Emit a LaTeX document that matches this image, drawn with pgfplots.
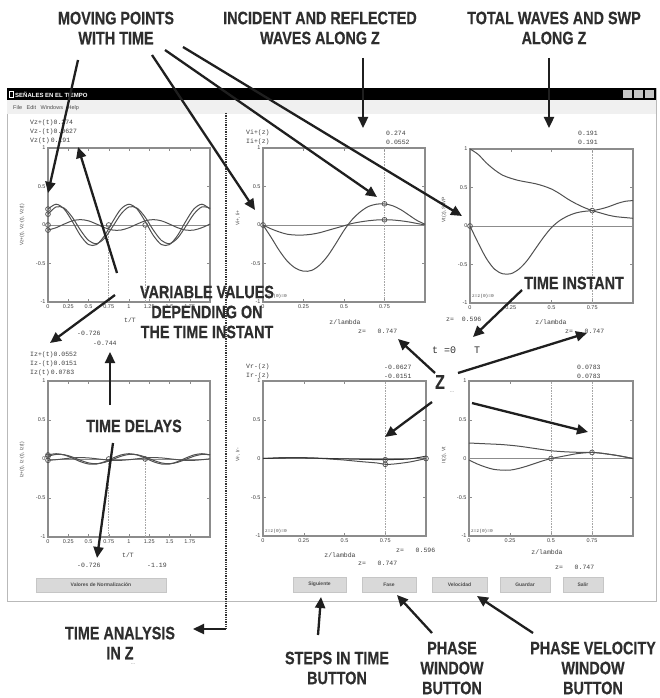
\documentclass[border=0pt]{standalone}
\usepackage{pgfplots}
\pgfplotsset{compat=1.18}
\usepackage{fontspec}
\setmainfont{Liberation Sans}
\newfontfamily\mono{Liberation Mono}
\newfontfamily\annfont{Liberation Sans Bold}[FakeBold=0.5]
\usetikzlibrary{arrows.meta}
\definecolor{crv}{HTML}{505050}
\definecolor{frm}{HTML}{8C8C8C}
\tikzset{
  ann/.style={font=\annfont\fontsize{18}{20}\selectfont, text=black!82, align=center, inner sep=0pt, xscale=0.8},
  arr/.style={line width=2.3pt, black!88, -{Triangle[length=11pt,width=10pt]}},
  mt/.style={font=\mono\fontsize{6.5}{7}\selectfont, inner sep=0pt, anchor=west, text=black!75},
  btn/.style={fill=gray!30, draw=gray!45},
  btxt/.style={font=\fontsize{5}{6}\selectfont\bfseries, text=black!70},
  ylab/.style={font=\fontsize{5}{6}\selectfont, rotate=90, text=black!70, inner sep=0pt},
  vd/.style={densely dotted, gray!70, line width=0.6pt}
}
\pgfplotsset{
  scr/.style={scale only axis, width=162pt, height=154pt, anchor=south west,
    ymin=-1, ymax=1, ytick={-1,-0.5,0,0.5,1}, yticklabels={-1,-0.5,0,0.5,1},
    axis line style={frm, line width=1.1pt}, tick style={frm, line width=0.5pt},
    major tick length=3pt, tick align=inside,
    ticklabel style={font=\fontsize{5.5}{6}\selectfont, text=black!75},
    xticklabel style={yshift=1pt}, yticklabel style={xshift=1pt},
    /pgf/number format/assume math mode=true, clip=false,
    every axis plot/.append style={line width=1pt, crv}},
  zl/.style={frm, line width=0.8pt},
  circ/.style={only marks, mark=o, mark size=2.4pt, crv, mark options={line width=0.7pt}}
}
\begin{document}
\begin{tikzpicture}
\path[use as bounding box] (0,0) rectangle (660pt,-698pt);
% ---------- window ----------
\begin{scope}[x=1pt,y=-1pt]
\fill[white] (0,0) rectangle (660,698);
\draw[gray!55, line width=0.7pt] (7,88) rectangle (656,601);
\fill[gray!12] (7,100) rectangle (656,114);
\fill[black] (7,88) rectangle (656,100);
\draw[white, line width=0.5pt] (9,91) rectangle (13,97);
\node[anchor=west, inner sep=0pt, text=white, font=\fontsize{6}{6}\selectfont\bfseries] at (15,94.5) {SEÑALES EN EL TIEMPO};
\foreach \xx in {623,634,645}{\fill[gray!45] (\xx,90) rectangle (\xx+9,98.5);}
\node[anchor=west, inner sep=0pt, font=\fontsize{5.5}{6}\selectfont, text=black!70] at (13,108) {File\ \ \ Edit\ \ \ Windows\ \ \ Help};
% buttons
\draw[btn] (36,578) rectangle (166,592); \node[btxt] at (101,585) {Valores de Normalización};
\draw[btn] (293,577) rectangle (346,592); \node[btxt] at (319.5,584.5) {Siguiente};
\draw[btn] (362,577) rectangle (416,592); \node[btxt] at (389,584.5) {Fase};
\draw[btn] (432,577) rectangle (487,592); \node[btxt] at (459.5,584.5) {Velocidad};
\draw[btn] (500,577) rectangle (550,592); \node[btxt] at (525,584.5) {Guardar};
\draw[btn] (563,577) rectangle (603,592); \node[btxt] at (583,584.5) {Salir};
\end{scope}

% ---------- top-left: time signals ----------
\begin{axis}[scr, at={(48pt,-302pt)}, xmin=0, xmax=2,
  xtick={0,0.25,0.5,0.75,1,1.25,1.5,1.75}, xticklabels={0,0.25,0.5,0.75,1,1.25,1.5,1.75}]
\addplot[zl] coordinates {(0,0) (2,0)};
\draw[vd] (axis cs:0.75,-1) -- (axis cs:0.75,0);
\draw[vd] (axis cs:1.2,-1) -- (axis cs:1.2,0);
\addplot[smooth] coordinates {(0,0.207) (0.1,0.27) (0.2,0.207) (0.3,0.047) (0.4,-0.135) (0.5,-0.254) (0.6,-0.254) (0.7,-0.135) (0.8,0.047) (0.9,0.207) (1.0,0.27) (1.1,0.207) (1.2,0.047) (1.3,-0.135) (1.4,-0.254) (1.5,-0.254) (1.6,-0.135) (1.7,0.047) (1.8,0.207) (1.9,0.27) (2.0,0.207)};
\addplot[smooth] coordinates {(0,-0.066) (0.1,-0.035) (0.2,0.012) (0.3,0.054) (0.4,0.07) (0.5,0.054) (0.6,0.012) (0.7,-0.035) (0.8,-0.066) (0.9,-0.066) (1.0,-0.035) (1.1,0.012) (1.2,0.054) (1.3,0.07) (1.4,0.054) (1.5,0.012) (1.6,-0.035) (1.7,-0.066) (1.8,-0.066) (1.9,-0.035) (2.0,0.012)};
\addplot[smooth] coordinates {(0,0.141) (0.1,0.235) (0.2,0.219) (0.3,0.101) (0.4,-0.065) (0.5,-0.200) (0.6,-0.242) (0.7,-0.170) (0.8,-0.019) (0.9,0.141) (1.0,0.235) (1.1,0.219) (1.2,0.101) (1.3,-0.065) (1.4,-0.200) (1.5,-0.242) (1.6,-0.170) (1.7,-0.019) (1.8,0.141) (1.9,0.235) (2.0,0.219)};
\addplot[circ] coordinates {(0,0.207) (0,0.141) (0,0) (0,-0.066) (0.75,0) (1.2,0)};
\end{axis}

% ---------- top-middle: incident & reflected ----------
\begin{axis}[scr, at={(263pt,-302pt)}, xmin=0, xmax=1,
  xtick={0,0.25,0.5,0.75}, xticklabels={0,0.25,0.5,0.75}]
\addplot[zl] coordinates {(0,0) (1,0)};
\draw[vd] (axis cs:0.75,-1) -- (axis cs:0.75,1);
\addplot[smooth] coordinates {(0,0) (0.05,-0.16) (0.1,-0.33) (0.15,-0.47) (0.2,-0.56) (0.25,-0.6) (0.3,-0.59) (0.35,-0.52) (0.4,-0.4) (0.45,-0.24) (0.5,-0.07) (0.55,0.07) (0.6,0.17) (0.65,0.24) (0.7,0.27) (0.75,0.275) (0.8,0.25) (0.85,0.2) (0.9,0.13) (0.95,0.06) (1.0,0.01)};
\addplot[smooth] coordinates {(0,0) (0.05,-0.05) (0.1,-0.09) (0.15,-0.12) (0.2,-0.13) (0.25,-0.13) (0.3,-0.12) (0.35,-0.1) (0.4,-0.07) (0.45,-0.04) (0.5,-0.01) (0.55,0.02) (0.6,0.04) (0.65,0.055) (0.7,0.065) (0.75,0.068) (0.8,0.065) (0.85,0.055) (0.9,0.04) (0.95,0.02) (1.0,0)};
\addplot[circ] coordinates {(0,0) (0.75,0.275) (0.75,0.068)};
\end{axis}

% ---------- top-right: total waves & SWP ----------
\begin{axis}[scr, at={(470pt,-303pt)}, width=163pt, xmin=0, xmax=1,
  xtick={0,0.25,0.5,0.75}, xticklabels={0,0.25,0.5,0.75}]
\addplot[zl] coordinates {(0,0) (1,0)};
\draw[vd] (axis cs:0.75,-1) -- (axis cs:0.75,1);
\addplot[smooth] coordinates {(0,1) (0.05,0.93) (0.1,0.82) (0.15,0.73) (0.2,0.66) (0.25,0.62) (0.3,0.59) (0.35,0.57) (0.4,0.55) (0.45,0.52) (0.5,0.48) (0.55,0.42) (0.6,0.35) (0.65,0.29) (0.7,0.24) (0.75,0.2) (0.8,0.17) (0.85,0.14) (0.9,0.12) (0.95,0.11) (1.0,0.1)};
\addplot[smooth] coordinates {(0,0) (0.05,-0.22) (0.1,-0.42) (0.15,-0.56) (0.2,-0.62) (0.25,-0.62) (0.3,-0.56) (0.35,-0.45) (0.4,-0.3) (0.45,-0.15) (0.5,-0.02) (0.55,0.07) (0.6,0.13) (0.65,0.17) (0.7,0.19) (0.75,0.2) (0.8,0.22) (0.85,0.25) (0.9,0.29) (0.95,0.32) (1.0,0.33)};
\addplot[circ] coordinates {(0,0) (0.75,0.2)};
\end{axis}

% ---------- bottom-left: currents in time ----------
\begin{axis}[scr, at={(48pt,-537pt)}, height=156pt, xmin=0, xmax=2,
  xtick={0,0.25,0.5,0.75,1,1.25,1.5,1.75}, xticklabels={0,0.25,0.5,0.75,1,1.25,1.5,1.75}]
\addplot[zl] coordinates {(0,0) (2,0)};
\draw[vd] (axis cs:0.75,-1) -- (axis cs:0.75,0);
\draw[vd] (axis cs:1.2,-1) -- (axis cs:1.2,0);
\addplot[smooth] coordinates {(0,0.052) (0.1,0.068) (0.2,0.052) (0.3,0.012) (0.4,-0.034) (0.5,-0.064) (0.6,-0.064) (0.7,-0.034) (0.8,0.012) (0.9,0.052) (1.0,0.068) (1.1,0.052) (1.2,0.012) (1.3,-0.034) (1.4,-0.064) (1.5,-0.064) (1.6,-0.034) (1.7,0.012) (1.8,0.052) (1.9,0.068) (2.0,0.052)};
\addplot[smooth] coordinates {(0,-0.017) (0.1,-0.009) (0.2,0.003) (0.3,0.014) (0.4,0.018) (0.5,0.014) (0.6,0.003) (0.7,-0.009) (0.8,-0.017) (0.9,-0.017) (1.0,-0.009) (1.1,0.003) (1.2,0.014) (1.3,0.018) (1.4,0.014) (1.5,0.003) (1.6,-0.009) (1.7,-0.017) (1.8,-0.017) (1.9,-0.009) (2.0,0.003)};
\addplot[smooth] coordinates {(0,0.035) (0.1,0.059) (0.2,0.055) (0.3,0.026) (0.4,-0.016) (0.5,-0.050) (0.6,-0.061) (0.7,-0.043) (0.8,-0.005) (0.9,0.035) (1.0,0.059) (1.1,0.055) (1.2,0.026) (1.3,-0.016) (1.4,-0.050) (1.5,-0.061) (1.6,-0.043) (1.7,-0.005) (1.8,0.035) (1.9,0.059) (2.0,0.055)};
\addplot[circ] coordinates {(0,0.052) (0,0.035) (0,-0.017) (0.75,0) (1.2,0)};
\end{axis}

% ---------- bottom-middle ----------
\begin{axis}[scr, at={(263pt,-536pt)}, width=163pt, height=155pt, xmin=0, xmax=1,
  xtick={0,0.25,0.5,0.75}, xticklabels={0,0.25,0.5,0.75}]
\addplot[zl] coordinates {(0,0) (1,0)};
\draw[vd] (axis cs:0.75,-1) -- (axis cs:0.75,1);
\addplot[smooth] coordinates {(0,0) (0.1,0.01) (0.2,0.012) (0.3,0.008) (0.4,-0.005) (0.5,-0.02) (0.6,-0.04) (0.7,-0.058) (0.75,-0.075) (0.8,-0.072) (0.9,-0.045) (1.0,0.0)};
\addplot[smooth, black!80] coordinates {(0,0) (0.1,0.005) (0.2,0.008) (0.3,0.005) (0.4,0) (0.5,-0.005) (0.6,-0.01) (0.7,-0.014) (0.75,-0.015) (0.8,-0.013) (0.9,-0.005) (1.0,0.03)};
\addplot[circ] coordinates {(0.75,-0.075) (0.75,-0.015) (1,0)};
\end{axis}

% ---------- bottom-right ----------
\begin{axis}[scr, at={(469pt,-536pt)}, width=164pt, height=155pt, xmin=0, xmax=1,
  xtick={0,0.25,0.5,0.75}, xticklabels={0,0.25,0.5,0.75}]
\addplot[zl] coordinates {(0,0) (1,0)};
\draw[vd] (axis cs:0.5,-1) -- (axis cs:0.5,1);
\draw[vd] (axis cs:0.75,-1) -- (axis cs:0.75,1);
\addplot[smooth] coordinates {(0,0.2) (0.1,0.19) (0.2,0.18) (0.3,0.16) (0.4,0.13) (0.5,0.1) (0.6,0.085) (0.7,0.078) (0.75,0.078) (0.8,0.07) (0.9,0.04) (1.0,0.0)};
\addplot[smooth] coordinates {(0,-0.02) (0.05,-0.07) (0.1,-0.11) (0.15,-0.14) (0.2,-0.15) (0.25,-0.15) (0.3,-0.13) (0.35,-0.1) (0.4,-0.065) (0.45,-0.03) (0.5,0.0) (0.55,0.02) (0.6,0.04) (0.65,0.06) (0.7,0.072) (0.75,0.078) (0.8,0.07) (0.9,0.04) (1.0,0.0)};
\addplot[circ] coordinates {(0.5,0) (0.75,0.078)};
\end{axis}

% ---------- texts and annotations ----------
\begin{scope}[x=1pt,y=-1pt]
% small monospaced readouts
\node[mt] at (30,123) {Vz+(t)0.274};
\node[mt] at (30,132) {Vz-(t)0.0627};
\node[mt] at (30,141) {Vz(t)\,0.191};
\node[mt] at (246,133) {Vi+(z)};
\node[mt] at (246,142) {Ii+(z)};
\node[mt] at (386,133) {0.274};
\node[mt] at (386,142) {0.0552};
\node[mt] at (578,133) {0.191};
\node[mt] at (578,142) {0.191};
\node[mt] at (30,355) {Iz+(t)0.0552};
\node[mt] at (30,364) {Iz-(t)0.0151};
\node[mt] at (30,373) {Iz(t)\,0.0783};
\node[mt] at (246,367) {Vr-(z)};
\node[mt] at (246,376) {Ir-(z)};
\node[mt] at (384,367) {-0.0627};
\node[mt] at (384,376) {-0.0151};
\node[mt] at (577,367) {0.0783};
\node[mt] at (577,376) {0.0783};
% axis names and positions
\node[mt, anchor=center] at (130,320) {t/T};
\node[mt, anchor=center] at (128,555) {t/T};
\node[mt, anchor=center] at (345,322) {z/lambda};
\node[mt, anchor=center] at (551,322) {z/lambda};
\node[mt, anchor=center] at (340,555) {z/lambda};
\node[mt, anchor=center] at (547,552) {z/lambda};
\node[mt] at (77,333) {-0.726};
\node[mt] at (93,343) {-0.744};
\node[mt] at (77,565) {-0.726};
\node[mt] at (147,565) {-1.19};
\node[mt] at (358,331) {z=\ \ \ 0.747};
\node[mt] at (565,331) {z=\ \ \ 0.747};
\node[mt] at (446,319) {z=\ \ 0.596};
\node[mt] at (396,550) {z=\ \ \ 0.596};
\node[mt] at (358,563) {z=\ \ \ 0.747};
\node[mt] at (555,567) {z=\ \ \ 0.747};
\node[mt, font=\mono\fontsize{4.5}{5}\selectfont] at (265,296) {z=z(0)=0};
\node[mt, font=\mono\fontsize{4.5}{5}\selectfont] at (472,296) {z=z(0)=0};
\node[mt, font=\mono\fontsize{4.5}{5}\selectfont] at (265,531) {z=z(0)=0};
\node[mt, font=\mono\fontsize{4.5}{5}\selectfont] at (471,531) {z=z(0)=0};
\node[ylab] at (22,225) {Vz+(t), Vz-(t), Vz(t)};
\node[ylab] at (22,460) {Iz+(t), Iz-(t), Iz(t)};
\node[ylab] at (238,218) {Vi+, Ii+};
\node[ylab] at (238,455) {Vr-, Ir-};
\node[ylab] at (444,210) {Vt(z), SWP};
\node[ylab] at (444,455) {It(z), Vt};
\node[anchor=west, inner sep=0pt, font=\mono\fontsize{10}{10}\selectfont, text=black!80] at (432,350) {t =0\ \ \ T};
% dotted time-analysis line
\draw[densely dotted, line width=1.3pt, black!80] (226,113) -- (226,629);
\draw[arr] (226,629) -- (193,629);
% big annotations
\node[ann] at (116,28) {MOVING POINTS\\WITH TIME};
\node[ann] at (320,28) {INCIDENT AND REFLECTED\\WAVES ALONG Z};
\node[ann] at (554,28) {TOTAL WAVES AND SWP\\ALONG Z};
\node[ann] at (207,312) {VARIABLE VALUES\\DEPENDING ON\\THE TIME INSTANT};
\node[ann] at (134,426) {TIME DELAYS};
\node[ann] at (574,283) {TIME INSTANT};
\node[ann, font=\annfont\fontsize{20}{20}\selectfont] at (440,382) {Z};
\node[inner sep=0pt, font=\fontsize{5}{5}\selectfont, text=black!60] at (452,392) {...};
\node[ann] at (120,643) {TIME ANALYSIS\\IN Z};
\node[inner sep=0pt, font=\fontsize{5}{5}\selectfont, text=black!60] at (133,664) {...};
\node[ann] at (337,668) {STEPS IN TIME\\BUTTON};
\node[ann] at (452,668) {PHASE\\WINDOW\\BUTTON};
\node[ann] at (593,668) {PHASE VELOCITY\\WINDOW\\BUTTON};
% arrows
\draw[arr] (78,60) -- (48,193);
\draw[arr] (152,55) -- (255,210);
\draw[arr] (165,50) -- (377,197);
\draw[arr] (183,47) -- (462,216);
\draw[arr] (363,58) -- (363,128);
\draw[arr] (549,58) -- (549,128);
\draw[arr] (117,273) -- (78,147);
\draw[arr] (115,295) -- (50,343);
\draw[arr] (110,405) -- (110,352);
\draw[arr] (113,443) -- (97,558);
\draw[arr] (522,290) -- (473,337);
\draw[arr] (435,373) -- (398,339);
\draw[arr] (458,373) -- (587,333);
\draw[arr] (432,402) -- (385,437);
\draw[arr] (472,403) -- (588,432);
\draw[arr] (318,635) -- (321,597);
\draw[arr] (432,633) -- (397,595);
\draw[arr] (533,633) -- (477,596);
\end{scope}
\end{tikzpicture}
\end{document}
